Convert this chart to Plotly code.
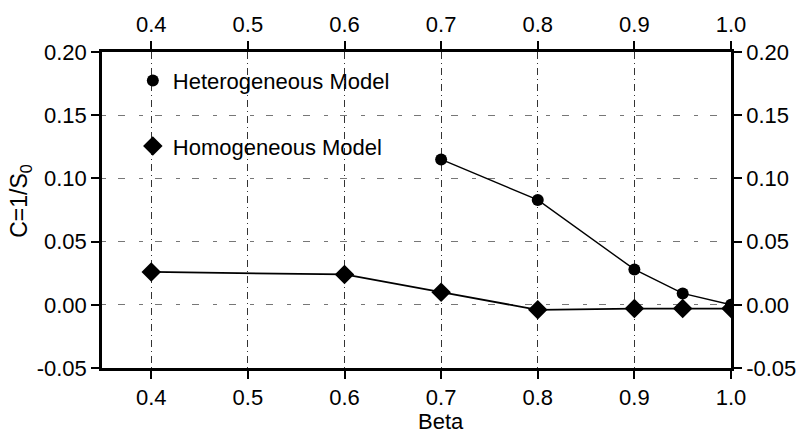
import plotly.graph_objects as go

# Beta values and C = 1/S0 for the two models
beta_het = [0.7, 0.8, 0.9, 0.95, 1.0]
c_het = [0.115, 0.083, 0.028, 0.009, 0.0]

beta_hom = [0.4, 0.6, 0.7, 0.8, 0.9, 0.95, 1.0]
c_hom = [0.026, 0.024, 0.010, -0.004, -0.003, -0.003, -0.003]

x_ticks = [0.4, 0.5, 0.6, 0.7, 0.8, 0.9, 1.0]
y_ticks = [-0.05, 0.0, 0.05, 0.10, 0.15, 0.20]

FONT = "Liberation Sans, Arial, sans-serif"
X_RANGE = [0.349, 1.0]
Y_RANGE = [-0.05, 0.20]

# tick labels with a plain hyphen for negatives
x_ticktext = [f"{v:.1f}" for v in x_ticks]
y_ticktext = [f"{v:.2f}" for v in y_ticks]

fig = go.Figure()

# connecting lines (no legend entry)
fig.add_trace(go.Scatter(x=beta_het, y=c_het, mode="lines",
                         line=dict(color="black", width=1.4),
                         showlegend=False, hoverinfo="skip"))
fig.add_trace(go.Scatter(x=beta_hom, y=c_hom, mode="lines",
                         line=dict(color="black", width=1.8),
                         showlegend=False, hoverinfo="skip"))

# markers, carried on the mirrored top/right axes
fig.add_trace(go.Scatter(x=beta_het, y=c_het, mode="markers",
                         name="Heterogeneous Model", legendgroup="het",
                         marker=dict(symbol="circle", size=12, color="black"),
                         xaxis="x2", yaxis="y2"))
fig.add_trace(go.Scatter(x=beta_hom, y=c_hom, mode="markers",
                         name="Homogeneous Model", legendgroup="hom",
                         marker=dict(symbol="diamond", size=15, color="black"),
                         xaxis="x2", yaxis="y2"))

tickfont = dict(family=FONT, size=22, color="black")

common_x = dict(range=X_RANGE, tickvals=x_ticks, ticktext=x_ticktext,
                ticks="outside", ticklen=8, tickwidth=1.5, tickcolor="black",
                showline=True, linecolor="black", linewidth=2.5,
                tickfont=tickfont, zeroline=False)
common_y = dict(range=Y_RANGE, tickvals=y_ticks, ticktext=y_ticktext,
                ticks="outside", ticklen=8, tickwidth=1.5, tickcolor="black",
                showline=True, linecolor="black", linewidth=2.5,
                tickfont=tickfont, zeroline=False)

fig.update_layout(
    width=808, height=433,
    margin=dict(l=102, r=71, t=50, b=65),
    paper_bgcolor="white", plot_bgcolor="white",
    font=dict(family=FONT, color="black"),
    xaxis=dict(**common_x, side="bottom", showgrid=True,
               gridcolor="#333333", gridwidth=1, griddash="7px,4px,1px,4px"),
    yaxis=dict(**common_y, side="left", showgrid=True,
               gridcolor="#777777", gridwidth=1, griddash="4px,12px,7px,14px"),
    xaxis2=dict(**common_x, side="top", overlaying="x", showgrid=False),
    yaxis2=dict(**common_y, side="right", overlaying="y", showgrid=False),
    legend=dict(x=0.049, y=0.976, xanchor="left", yanchor="top",
                bgcolor="rgba(0,0,0,0)", tracegroupgap=34,
                font=dict(family=FONT, size=22, color="black")),
    annotations=[
        dict(text="Beta", x=0.7, xref="x", y=-0.168, yref="paper",
             showarrow=False, font=dict(family=FONT, size=22, color="black"),
             xanchor="center", yanchor="middle"),
        dict(text="C=1/S<sub>0</sub>", x=-0.13, xref="paper", y=0.53, yref="paper",
             textangle=-90, showarrow=False,
             font=dict(family=FONT, size=23, color="black"),
             xanchor="center", yanchor="middle"),
    ],
)

fig.write_html("out.html")
